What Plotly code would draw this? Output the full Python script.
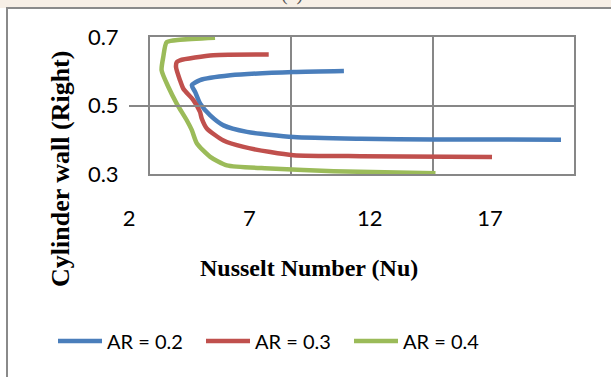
import plotly.graph_objects as go

# ---- data ----
ar02_nu = [8.86, 7.08, 4.84, 3.77, 3.48, 3.60, 3.77, 4.13, 4.60, 5.43, 7.08, 9.45, 12.0, 16.54]
ar02_y = [0.601, 0.598, 0.588, 0.574, 0.559, 0.539, 0.506, 0.471, 0.442, 0.423, 0.408, 0.403, 0.401, 0.400]

ar03_nu = [6.2, 4.24, 3.06, 2.95, 2.92, 3.06, 3.18, 3.54, 3.77, 3.83, 4.01, 4.60, 5.31, 6.26, 7.08, 9.45, 14.1]
ar03_y = [0.649, 0.647, 0.632, 0.627, 0.612, 0.574, 0.549, 0.515, 0.481, 0.462, 0.433, 0.398, 0.379, 0.364, 0.355, 0.352, 0.350]

ar04_nu = [4.3, 3.06, 2.59, 2.47, 2.41, 2.65, 2.95, 3.30, 3.48, 3.66, 4.13, 4.72, 6.26, 8.5, 12.1]
ar04_y = [0.698, 0.692, 0.685, 0.642, 0.603, 0.554, 0.505, 0.457, 0.428, 0.389, 0.350, 0.325, 0.316, 0.308, 0.302]

series_names = ["AR = 0.2", "AR = 0.3", "AR = 0.4"]
series_colors = ["#4A7EBB", "#C0504D", "#9BBB59"]

x_ticks = [2, 7, 12, 17]
y_ticks = [0.3, 0.5, 0.7]

TICK_FONT = dict(family="Lato, 'Open Sans', sans-serif", size=22, color="#000000")
TITLE_FONT = dict(family="'Liberation Serif', 'DejaVu Serif', serif", size=24, color="#000000")

fig = go.Figure()
for xs, ys, name, col in zip([ar02_nu, ar03_nu, ar04_nu], [ar02_y, ar03_y, ar04_y],
                             series_names, series_colors):
    fig.add_trace(go.Scatter(x=xs, y=ys, mode="lines", name=name,
                             line=dict(color=col, width=4.5, shape="spline", smoothing=0.6)))

# invisible trace to create the tick-label axis
fig.add_trace(go.Scatter(x=[x_ticks[0]], y=[y_ticks[0]], xaxis="x2", yaxis="y",
                         mode="markers", marker=dict(opacity=0), showlegend=False, hoverinfo="skip"))

W, H = 611, 377
L, R, T, B = 129, 0, 37, 203
pw = W - L - R
ph = H - T - B

def px_x(p):
    return (p - L) / pw

def px_y(p):
    return (H - B - p) / ph

fig.update_layout(
    width=W, height=H,
    margin=dict(l=L, r=R, t=T, b=B, autoexpand=False),
    paper_bgcolor="white", plot_bgcolor="rgba(0,0,0,0)",
    showlegend=True,
    legend=dict(orientation="h", x=px_x(53), y=px_y(341), xanchor="left", yanchor="middle",
                font=dict(family="Lato, 'Open Sans', sans-serif", size=20, color="#000000"),
                itemwidth=44, entrywidth=89, entrywidthmode="pixels", bgcolor="rgba(0,0,0,0)"),
    xaxis=dict(domain=[px_x(150), px_x(574)], range=[2, 17], tickvals=x_ticks, showticklabels=False,
               showgrid=True, gridcolor="#878787", gridwidth=1.5,
               showline=True, linecolor="#878787", linewidth=2, mirror=True,
               zeroline=False, ticks=""),
    xaxis2=dict(domain=[0, px_x(490)], range=[2, 17], tickvals=x_ticks, anchor="y",
                showgrid=False, showline=False, zeroline=False,
                ticks="outside", ticklen=25, tickcolor="rgba(0,0,0,0)", tickfont=TICK_FONT),
    yaxis=dict(anchor="x", range=[0.3, 0.7], tickvals=y_ticks, tickformat=".1f",
               showgrid=True, gridcolor="#878787", gridwidth=1.5,
               showline=True, linecolor="#878787", linewidth=2, mirror=True, zeroline=False,
               ticks="outside", ticklen=25, tickcolor="rgba(0,0,0,0)", tickfont=TICK_FONT),
    annotations=[
        dict(text="<b>Cylinder wall (Right)</b>", textangle=-90, xref="paper", yref="paper",
             x=px_x(60), y=px_y(169), xanchor="center", yanchor="middle", showarrow=False,
             font=dict(TITLE_FONT, size=26)),
        dict(text="<b>Nusselt Number (Nu)</b>", xref="paper", yref="paper",
             x=px_x(309), y=px_y(268), xanchor="center", yanchor="middle", showarrow=False,
             font=TITLE_FONT),
        dict(text="(a)", xref="paper", yref="paper", x=px_x(292), y=px_y(7),
             xanchor="center", yanchor="bottom", showarrow=False,
             font=dict(family="'Liberation Serif', serif", size=20, color="#555555")),
    ],
    shapes=[
        dict(type="rect", xref="paper", yref="paper", x0=px_x(-5), x1=px_x(620),
             y0=px_y(8), y1=px_y(-5), fillcolor="#f7efe6", line=dict(width=0), layer="below"),
        dict(type="rect", xref="paper", yref="paper", x0=px_x(7), x1=px_x(620),
             y0=px_y(385), y1=px_y(8), line=dict(color="#8a8a8a", width=2), fillcolor="rgba(0,0,0,0)"),
    ],
)

fig.write_html("out.html", config={"displayModeBar": False},
               post_script="document.body.style.margin='0';")
